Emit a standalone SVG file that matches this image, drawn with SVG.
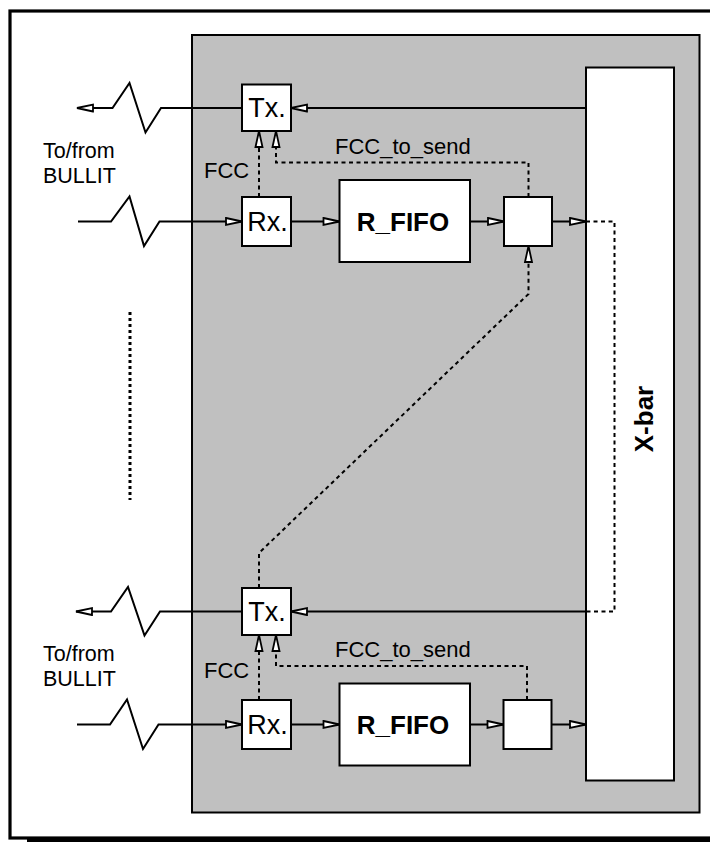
<svg xmlns="http://www.w3.org/2000/svg" width="710" height="842" viewBox="0 0 710 842">
<style>
.box{fill:#fff;stroke:#000;stroke-width:2}
.ln{fill:none;stroke:#000;stroke-width:2}
.dt{fill:none;stroke:#000;stroke-width:2;stroke-dasharray:4 3.5}
.t{font-family:"Liberation Sans",Arial,sans-serif;font-size:22px;fill:#000}
.t2{font-family:"Liberation Sans",Arial,sans-serif;font-size:21.5px;fill:#000}
.tb{font-family:"Liberation Sans",Arial,sans-serif;font-size:27px;fill:#000;text-anchor:middle}
.b{font-family:"Liberation Sans",Arial,sans-serif;font-size:26px;font-weight:bold;fill:#000;text-anchor:middle}
</style>
<defs>
<marker id="ah" markerUnits="userSpaceOnUse" markerWidth="20" markerHeight="10" refX="16" refY="3.5" orient="auto" overflow="visible">
<path d="M0,0 L16,3.5 L0,7 Z" fill="#fff" stroke="#000" stroke-width="1.8" stroke-linejoin="miter"/>
</marker>
</defs>
<rect x="0" y="0" width="710" height="842" fill="#fff"/>
<g id="frame">
<rect x="10" y="11" width="720" height="827" fill="none" stroke="#000" stroke-width="3.2"/>
<rect x="27" y="838" width="690" height="4" fill="#000"/>
</g>
<g id="module">
<rect x="192" y="35" width="507.5" height="777.5" fill="#c0c0c0" stroke="#000" stroke-width="2"/>
</g>
<g id="xbar">
<rect class="box" x="586" y="67.5" width="88" height="713"/>
<text class="b" transform="translate(653,419) rotate(-90)">X-bar</text>
</g>
<g id="tx1"><rect class="box" x="242" y="84.5" width="49" height="46.5"/><text class="tb" x="267" y="117">Tx.</text></g>
<g id="rx1"><rect class="box" x="242" y="197" width="49" height="49"/><text class="tb" x="267.5" y="230.5">Rx.</text></g>
<g id="fifo1"><rect class="box" x="339.5" y="180" width="130.5" height="82"/><text class="b" x="403" y="230.5">R_FIFO</text></g>
<g id="sel1"><rect class="box" x="504" y="197" width="48" height="49"/></g>
<g id="tx2"><rect class="box" x="242" y="588" width="49" height="47"/><text class="tb" x="267" y="620.5">Tx.</text></g>
<g id="rx2"><rect class="box" x="242" y="700" width="49" height="49"/><text class="tb" x="267.5" y="734">Rx.</text></g>
<g id="fifo2"><rect class="box" x="339.5" y="683.5" width="130.5" height="82"/><text class="b" x="403" y="734">R_FIFO</text></g>
<g id="sel2"><rect class="box" x="503.5" y="700" width="48" height="49"/></g>
<g id="labels">
<text class="t2" x="43" y="157.5">To/from</text>
<text class="t2" x="43" y="182.5">BULLIT</text>
<text class="t" x="204" y="178">FCC</text>
<text class="t" x="335" y="153.5">FCC_to_send</text>
<text class="t2" x="43" y="661">To/from</text>
<text class="t2" x="43" y="686">BULLIT</text>
<text class="t" x="204" y="678">FCC</text>
<text class="t" x="335" y="657">FCC_to_send</text>
</g>
<g id="connectors">
<path class="ln" d="M586,108 H291" marker-end="url(#ah)"/>
<path class="ln" d="M242,108 H161 L145.5,132.5 L129.5,83 L112.5,108 H77" marker-end="url(#ah)"/>
<path class="ln" d="M78,221.5 H111 L129.5,196.5 L144,246 L159.5,221.5 H242" marker-end="url(#ah)"/>
<path class="ln" d="M291,221.5 H339.5" marker-end="url(#ah)"/>
<path class="ln" d="M470,221.5 H504" marker-end="url(#ah)"/>
<path class="ln" d="M552,221.5 H586" marker-end="url(#ah)"/>
<path class="dt" d="M586,221.5 H614.5 V611.5 H586"/>
<path class="dt" d="M259,197 V131" marker-end="url(#ah)"/>
<path class="dt" d="M528.5,197 V162.5 H276 V131" marker-end="url(#ah)"/>
<path class="dt" d="M259,588 V553 L528.5,294 V246" marker-end="url(#ah)"/>
<path class="ln" d="M586,611.5 H291" marker-end="url(#ah)"/>
<path class="ln" d="M242,611.5 H160 L144.5,635.5 L128,587 L111,611.5 H76" marker-end="url(#ah)"/>
<path class="ln" d="M77,724.5 H110 L127,699.5 L143,749 L158.5,724.5 H242" marker-end="url(#ah)"/>
<path class="ln" d="M291,724.5 H339.5" marker-end="url(#ah)"/>
<path class="ln" d="M470,724.5 H503.5" marker-end="url(#ah)"/>
<path class="ln" d="M551.5,724.5 H586" marker-end="url(#ah)"/>
<path class="dt" d="M259,700 V635" marker-end="url(#ah)"/>
<path class="dt" d="M527,700 V666 H276 V635" marker-end="url(#ah)"/>
<path fill="none" stroke="#000" stroke-width="3" stroke-dasharray="3 3" d="M130,312 V500"/>
</g>
</svg>
